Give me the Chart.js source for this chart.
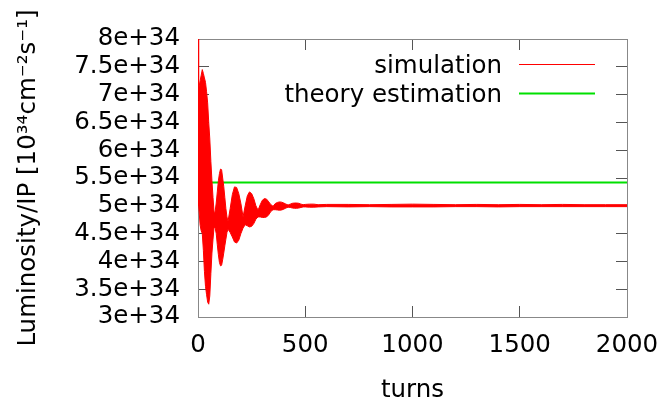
<!DOCTYPE html>
<html lang="en">

<head>
    <meta charset="UTF-8">
    <title>Luminosity per IP vs turns</title>
    <script src="https://cdn.jsdelivr.net/npm/chart.js@4.4.0/dist/chart.umd.min.js"></script>
    <style>
        body {
            margin: 0;
            background: #fff;
        }

        #wrap {
            width: 663px;
            height: 405px;
        }
    </style>
</head>

<body>
    <div id="wrap"><canvas id="lumiChart"></canvas></div>

    <script>
        // luminosity values in units of 1e34 (axis labels add the e+34)
        const simTurns = [0, 3, 10, 15, 20, 25, 30, 35, 40, 45, 50, 55, 60, 65, 70, 75, 80, 85, 90, 95,
            100, 105, 110, 115, 120, 125, 130, 135, 140, 150, 160, 170, 180, 190, 200, 210, 220, 230, 240, 250,
            260, 270, 280, 290, 300, 310, 320, 330, 340, 350, 360, 370, 380, 390, 400, 410, 420, 430, 440, 450,
            460, 470, 480, 490, 500, 520, 540, 560, 600, 700, 800, 900, 1000, 1100, 1200, 1300, 1400, 1500,
            1600, 1700, 1800, 1900, 2000];
        // upper and lower edge of the fast turn-by-turn oscillation
        const simUpper = [8.0, 7.1, 7.25, 7.35, 7.45, 7.38, 7.3, 7.22, 7.05, 6.85, 6.5, 6.2, 5.8, 5.45, 5.15, 4.88, 4.9, 5.05, 5.25, 5.45,
            5.58, 5.66, 5.65, 5.5, 5.35, 5.15, 4.95, 4.8, 4.72, 4.95, 5.2, 5.34, 5.33, 5.22, 5.04, 4.8, 5.0, 5.18, 5.25, 5.22,
            5.13, 5.0, 4.92, 5.02, 5.1, 5.13, 5.12, 5.07, 5.02, 4.99, 5.04, 5.06, 5.07, 5.065, 5.05, 5.03, 5.015, 5.03, 5.045, 5.05,
            5.05, 5.045, 5.03, 5.02, 5.025, 5.03, 5.03, 5.02, 5.025, 5.025, 5.02, 5.025, 5.03, 5.025, 5.02, 5.025, 5.02, 5.025,
            5.02, 5.025, 5.02, 5.02, 5.02];
        const simLower = [5.5, 5.0, 4.65, 4.55, 4.5, 4.2, 3.82, 3.55, 3.4, 3.27, 3.23, 3.38, 3.78, 4.15, 4.4, 4.62, 4.6, 4.5, 4.3, 4.12,
            3.98, 3.92, 3.93, 4.03, 4.15, 4.28, 4.4, 4.52, 4.58, 4.52, 4.44, 4.35, 4.33, 4.38, 4.5, 4.6, 4.66, 4.64, 4.62, 4.63,
            4.68, 4.76, 4.8, 4.8, 4.79, 4.79, 4.8, 4.84, 4.9, 4.93, 4.93, 4.925, 4.92, 4.925, 4.94, 4.96, 4.975, 4.97, 4.96, 4.955,
            4.955, 4.96, 4.97, 4.98, 4.98, 4.975, 4.975, 4.98, 4.985, 4.98, 4.985, 4.98, 4.98, 4.98, 4.985, 4.985, 4.98, 4.985,
            4.985, 4.985, 4.985, 4.985, 4.985];

        const theoryTurns = [0, 2000];
        const theoryValues = [5.42, 5.42];

        const FONT = { family: "'DejaVu Sans', sans-serif", size: 24.5 };
        const BORDER = '#888888';
        const TICK = '#555555';

        // gnuplot style key: text right aligned, line sample to its right, inside the plot
        const keyPlugin = {
            id: 'gnuKey',
            afterDraw(chart) {
                const ctx = chart.ctx;
                const area = chart.chartArea;
                let row = 0;
                ctx.save();
                ctx.font = FONT.size + 'px ' + FONT.family;
                ctx.textAlign = 'right';
                ctx.textBaseline = 'alphabetic';
                chart.data.datasets.forEach(ds => {
                    if (!ds.label) return;
                    const y = area.top + 25 + row * 29;
                    ctx.fillStyle = '#000';
                    ctx.fillText(ds.label, area.right - 125, y + 9);
                    ctx.strokeStyle = ds.borderColor;
                    ctx.lineWidth = ds.borderWidth;
                    ctx.beginPath();
                    ctx.moveTo(area.right - 108, y + 0.5);
                    ctx.lineTo(area.right - 32, y + 0.5);
                    ctx.stroke();
                    row++;
                });
                ctx.restore();
            }
        };

        // pin an axis to a fixed thickness and drop the label overhang padding
        function pinSize(size) {
            return s => {
                if (s.isHorizontal()) s.height = size; else s.width = size;
                s.paddingLeft = s.paddingRight = s.paddingTop = s.paddingBottom = 0;
            };
        }

        function mirrorAxis(pos, min, max, step, size) {
            return {
                type: 'linear',
                position: pos,
                min: min,
                max: max,
                ticks: { display: false, stepSize: step },
                grid: { drawOnChartArea: false, tickLength: -11, color: BORDER, tickColor: TICK },
                border: { color: BORDER, width: 1 },
                afterFit: pinSize(size)
            };
        }

        new Chart(document.getElementById('lumiChart'), {
            type: 'line',
            data: {
                datasets: [{
                    label: 'simulation',
                    data: simTurns.map((t, i) => ({ x: t, y: simUpper[i] })),
                    borderColor: '#ff0000',
                    borderWidth: 1,
                    pointRadius: 0,
                    fill: false
                }, {
                    label: '',
                    data: simTurns.map((t, i) => ({ x: t, y: simLower[i] })),
                    borderColor: '#ff0000',
                    backgroundColor: '#ff0000',
                    borderWidth: 1,
                    pointRadius: 0,
                    fill: '-1'
                }, {
                    label: 'theory estimation',
                    data: theoryTurns.map((t, i) => ({ x: t, y: theoryValues[i] })),
                    borderColor: '#00e000',
                    borderWidth: 2,
                    pointRadius: 0,
                    fill: false
                }]
            },
            options: {
                responsive: true,
                maintainAspectRatio: false,
                animation: false,
                devicePixelRatio: 1,
                layout: { padding: 0, autoPadding: false },
                plugins: {
                    legend: { display: false },
                    tooltip: { enabled: false }
                },
                scales: {
                    x: {
                        type: 'linear',
                        position: 'bottom',
                        min: 0,
                        max: 2000,
                        ticks: {
                            stepSize: 500,
                            font: FONT,
                            color: '#000',
                            padding: 25,
                            maxRotation: 0,
                            callback: v => String(v)
                        },
                        grid: { drawOnChartArea: false, tickLength: -11, color: BORDER, tickColor: TICK },
                        border: { color: BORDER, width: 1 },
                        title: { display: true, text: 'turns', font: FONT, color: '#000', padding: 0 },
                        afterFit: pinSize(88)
                    },
                    xTop: mirrorAxis('top', 0, 2000, 500, 39),
                    y: {
                        type: 'linear',
                        position: 'left',
                        min: 3,
                        max: 8,
                        ticks: {
                            stepSize: 0.5,
                            autoSkip: false,
                            font: FONT,
                            color: '#000',
                            padding: 29,
                            callback: v => v + 'e+34'
                        },
                        grid: { drawOnChartArea: false, tickLength: -11, color: BORDER, tickColor: TICK },
                        border: { color: BORDER, width: 1 },
                        title: {
                            display: true,
                            text: 'Luminosity/IP [10³⁴cm⁻²s⁻¹]',
                            font: FONT,
                            color: '#000',
                            padding: { top: 14, bottom: 0 }
                        },
                        afterFit: pinSize(198)
                    },
                    yRight: mirrorAxis('right', 3, 8, 0.5, 36)
                }
            },
            plugins: [keyPlugin]
        });
    </script>
</body>

</html>
